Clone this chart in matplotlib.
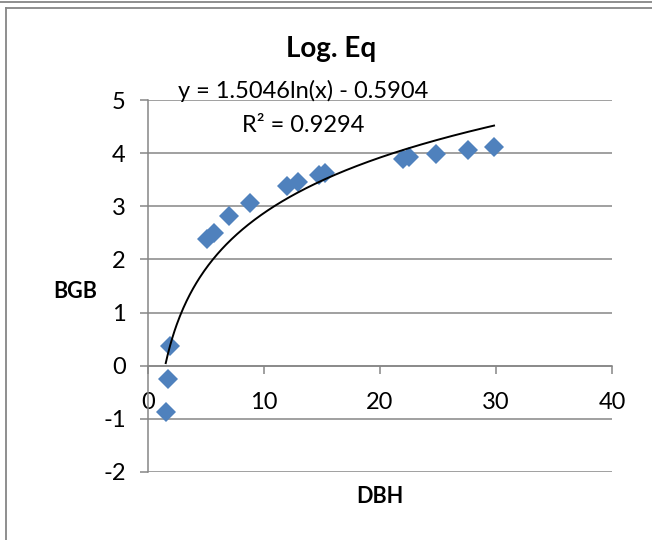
import matplotlib
matplotlib.use("Agg")
import matplotlib.pyplot as plt
from matplotlib.lines import Line2D
import numpy as np

plt.rcParams['font.family'] = ['Lato', 'DejaVu Sans']
plt.rcParams['axes.unicode_minus'] = False

# DBH vs BGB measurements
dbh = [1.53, 1.72, 1.90, 5.11, 5.69, 7.01, 8.79, 11.96, 12.96, 14.77, 15.26,
       21.96, 22.53, 24.80, 27.60, 29.83]
bgb = [-0.88, -0.25, 0.38, 2.38, 2.49, 2.81, 3.07, 3.38, 3.45, 3.59, 3.62,
       3.89, 3.92, 3.98, 4.06, 4.12]

# log trendline coefficients
a, b = 1.5046, -0.5904
r2 = 0.9294

xticks = [0, 10, 20, 30, 40]
yticks = [-2, -1, 0, 1, 2, 3, 4, 5]

W, H = 652, 540
fig = plt.figure(figsize=(W / 100, H / 100), dpi=100)
ax = fig.add_axes([148 / W, 1 - 472 / H, (612 - 148) / W, (472 - 100) / H])

grey = '#868686'
blue = '#4F81BD'

ax.set_xlim(0, 40)
ax.set_ylim(-2, 5)
ax.set_xticks(xticks)
ax.set_yticks(yticks)
ax.yaxis.grid(True, color=grey, linewidth=1.1)
ax.set_axisbelow(True)

for s in ['top', 'right']:
    ax.spines[s].set_visible(False)
ax.spines['bottom'].set_position(('data', 0))
ax.spines['left'].set_position(('data', 0))
for s in ['bottom', 'left']:
    ax.spines[s].set_color(grey)
    ax.spines[s].set_linewidth(1.1)

ax.tick_params(axis='both', direction='out', length=6, width=1.1, color=grey,
               labelsize=17)
ax.tick_params(axis='x', pad=13)
ax.tick_params(axis='y', pad=10)

# scatter points
ax.plot(dbh, bgb, linestyle='none', marker='D', markersize=10,
        color=blue, markeredgewidth=0, zorder=3)

# trendline over the data range
xt = np.linspace(min(dbh), max(dbh), 300)
ax.plot(xt, a * np.log(xt) + b, color='black', linewidth=1.4, zorder=4)

# axis titles and chart title
fig.text(331 / W, 1 - 57 / H, 'Log. Eq', fontsize=20, fontweight='bold',
         ha='center', va='baseline')
fig.text(75 / W, 1 - 291 / H, 'BGB', fontsize=15.5, fontweight='bold',
         ha='center', va='center')
fig.text(380 / W, 1 - 503 / H, 'DBH', fontsize=15.5, fontweight='bold',
         ha='center', va='baseline')

# trendline label
fig.text(303 / W, 1 - 98 / H, 'y = %.4fln(x) - %.4f' % (a, -b), fontsize=17,
         ha='center', va='baseline')
fig.text(303 / W, 1 - 132 / H, 'R² = %.4f' % r2, fontsize=17,
         ha='center', va='baseline')

# chart frame
def px_line(xs, ys):
    fig.add_artist(Line2D([x / W for x in xs], [1 - y / H for y in ys],
                          transform=fig.transFigure, color=grey, linewidth=1.3))

px_line([6, W + 5], [8, 8])
px_line([6, 6], [8, H + 5])
px_line([0, W + 5], [1.5, 1.5])

fig.savefig('out.png', dpi=100)
